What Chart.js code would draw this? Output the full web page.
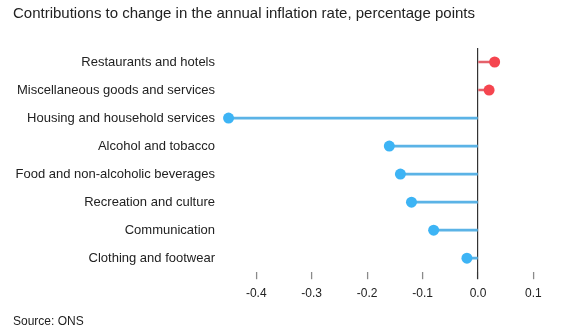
<!DOCTYPE html>
<html>
<head>
<meta charset="utf-8">
<script src="https://cdn.jsdelivr.net/npm/chart.js@4.4.1/dist/chart.umd.min.js"></script>
<style>
  html, body { margin: 0; padding: 0; background: #fff; }
  #wrap { width: 579px; height: 336px; }
</style>
</head>
<body>
<div id="wrap"><canvas id="lollipop"></canvas></div>
<script>
// contributions by component, percentage points
const categories = [
    "Restaurants and hotels",
    "Miscellaneous goods and services",
    "Housing and household services",
    "Alcohol and tobacco",
    "Food and non-alcoholic beverages",
    "Recreation and culture",
    "Communication",
    "Clothing and footwear"
];
const contributions = [0.03, 0.02, -0.45, -0.16, -0.14, -0.12, -0.08, -0.02];
const xTicks = [-0.4, -0.3, -0.2, -0.1, 0.0, 0.1];

const dotUp = '#f5454f';
const dotDown = '#3db4f5';
const stemUp = '#e4626b';
const stemDown = '#5bb3e6';

const fontFamily = "'Liberation Sans', Arial, Helvetica, sans-serif";

const ctx = document.getElementById('lollipop').getContext('2d');
new Chart(ctx, {
    data: {
        labels: categories,
        datasets: [{
            type: 'line',
            data: contributions,
            showLine: false,
            pointRadius: 5.5,
            pointHoverRadius: 5.5,
            pointBorderWidth: 0,
            pointBackgroundColor: contributions.map(v => v >= 0 ? dotUp : dotDown),
            order: 0
        }, {
            type: 'bar',
            data: contributions,
            barThickness: 2,
            backgroundColor: contributions.map(v => v >= 0 ? stemUp : stemDown),
            borderWidth: 0,
            order: 1
        }]
    },
    options: {
        indexAxis: 'y',
        responsive: true,
        maintainAspectRatio: false,
        animation: false,
        layout: {
            padding: { left: 13, right: 40, top: 0, bottom: 0 }
        },
        scales: {
            x: {
                type: 'linear',
                min: -0.46,
                max: 0.11,
                afterBuildTicks: scale => {
                    scale.ticks = xTicks.map(v => ({ value: v }));
                },
                border: { display: false },
                grid: {
                    drawOnChartArea: true,
                    color: c => (c.tick && c.tick.value === 0) ? '#333333' : 'transparent',
                    lineWidth: 1.2,
                    tickColor: c => (c.tick && c.tick.value === 0) ? '#333333' : '#8a8a8a',
                    tickLength: 7,
                    tickWidth: 1.3
                },
                ticks: {
                    color: '#222',
                    padding: 7,
                    font: { family: fontFamily, size: 12 },
                    callback: v => Number(v).toFixed(1)
                }
            },
            y: {
                type: 'category',
                offset: true,
                border: { display: false },
                grid: { display: false, drawTicks: false },
                afterFit: scale => { scale.width = 210; },
                ticks: {
                    color: '#222',
                    padding: 8,
                    font: { family: fontFamily, size: 13 }
                }
            }
        },
        plugins: {
            legend: { display: false },
            tooltip: { enabled: false },
            title: {
                display: true,
                text: 'Contributions to change in the annual inflation rate, percentage points',
                align: 'start',
                color: '#222',
                font: { family: fontFamily, size: 15, weight: 'normal' },
                padding: { top: 5, bottom: 25 }
            },
            subtitle: {
                display: true,
                position: 'bottom',
                text: 'Source: ONS',
                align: 'start',
                color: '#222',
                font: { family: fontFamily, size: 12 },
                padding: { top: 7, bottom: 7 }
            }
        }
    }
});
</script>
</body>
</html>
